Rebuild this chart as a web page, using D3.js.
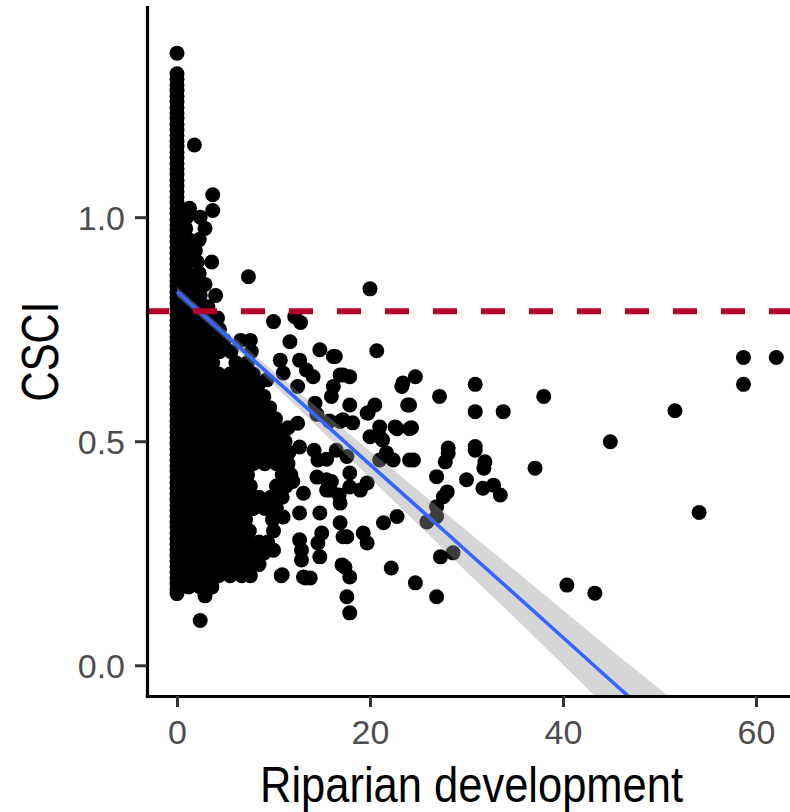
<!DOCTYPE html>
<html>
<head>
<meta charset="utf-8">
<script src="https://cdn.jsdelivr.net/npm/d3@7"></script>
<style>
  html, body { margin: 0; padding: 0; background: #ffffff; }
  svg { display: block; }
  text { font-family: "Liberation Sans", Arial, sans-serif; }
</style>
</head>
<body>
<script>
// ---------------- DATA ----------------
// Points stacked at x = 0 (the tall solid column)
const columnY = [1.366,
  1.320, 1.3075, 1.295, 1.2825, 1.270, 1.2575, 1.245, 1.2325, 1.220, 1.2075,
  1.195, 1.1825, 1.170, 1.1575, 1.145, 1.1325, 1.120, 1.1075, 1.095, 1.0825,
  1.070, 1.0575, 1.045, 1.0325, 1.020, 1.0075, 0.995, 0.9825, 0.970, 0.9575,
  0.945, 0.9325, 0.920, 0.9075, 0.895, 0.8825, 0.870, 0.8575, 0.845, 0.8325,
  0.820, 0.8075, 0.795, 0.7825, 0.770, 0.7575, 0.745, 0.7325, 0.720, 0.7075,
  0.695, 0.6825, 0.670, 0.6575, 0.645, 0.6325, 0.620, 0.6075, 0.595, 0.5825,
  0.570, 0.5575, 0.545, 0.5325, 0.520, 0.5075, 0.495, 0.4825, 0.470, 0.4575,
  0.445, 0.4325, 0.420, 0.4075, 0.395, 0.3825, 0.370, 0.3575, 0.345, 0.3325,
  0.320, 0.3075, 0.295, 0.2825, 0.270, 0.2575, 0.245, 0.2325, 0.220, 0.2075,
  0.195, 0.1825, 0.170, 0.160];

// Dense mass near the y axis: each row is [CSCI, [riparian development values]]
const denseRows = [
  [1.020, [1.3]],
  [1.000, [1.0, 2.4]],
  [0.975, [0.9, 2.9]],
  [0.950, [1.2, 2.3]],
  [0.925, [0.8, 1.9]],
  [0.900, [1.0, 2.1, 3.6]],
  [0.875, [1.1, 2.3]],
  [0.850, [0.7, 1.8, 2.9]],
  [0.825, [1.2, 2.4, 4.0]],
  [0.800, [0.8, 2.0, 3.2]],
  [0.775, [1.2, 2.4, 3.6, 4.2]],
  [0.750, [0.7, 1.9, 3.1, 4.4]],
  [0.725, [1.3, 2.5, 3.7, 4.9, 6.6, 7.6]],
  [0.700, [0.8, 2.0, 3.2, 4.4, 5.6, 7.7]],
  [0.675, [1.3, 2.5, 3.7, 6.1, 7.3]],
  [0.650, [0.7, 1.9, 3.1, 4.3, 5.5, 6.7, 7.9]],
  [0.625, [1.3, 2.5, 3.7, 4.9, 6.1, 7.3, 8.4]],
  [0.600, [0.7, 1.9, 3.1, 4.3, 5.5, 6.7, 7.9, 9.0]],
  [0.575, [1.3, 2.5, 3.7, 4.9, 6.1, 7.3, 8.5, 9.6]],
  [0.550, [0.7, 1.9, 3.1, 4.3, 5.5, 6.7, 7.9, 9.1, 10.2]],
  [0.525, [1.3, 2.5, 3.7, 4.9, 6.1, 7.3, 8.5, 9.7, 10.6]],
  [0.500, [0.7, 1.9, 3.1, 4.3, 5.5, 6.7, 7.9, 9.1, 10.3, 11.2]],
  [0.475, [1.3, 2.5, 3.7, 4.9, 6.1, 7.3, 8.5, 9.7, 10.9, 11.6]],
  [0.450, [0.7, 1.9, 3.1, 4.3, 5.5, 6.7, 7.9, 9.1, 10.3, 11.5]],
  [0.425, [1.3, 2.5, 3.7, 4.9, 6.1, 7.3, 10.9, 11.8]],
  [0.400, [0.7, 1.9, 3.1, 4.3, 5.5, 6.7, 7.6, 10.3, 11.3]],
  [0.375, [1.3, 2.5, 3.7, 4.9, 6.1, 7.3, 8.5, 9.7, 10.9]],
  [0.350, [0.7, 1.9, 3.1, 4.3, 5.5, 6.7, 7.9, 9.1, 10.3]],
  [0.325, [1.3, 2.5, 3.7, 4.9, 6.1, 7.1, 9.9]],
  [0.300, [0.7, 1.9, 3.1, 4.3, 5.5, 6.7, 7.5, 10.0]],
  [0.275, [1.3, 2.5, 3.7, 4.9, 6.1, 7.3, 8.5, 9.4]],
  [0.250, [0.7, 1.9, 3.1, 4.3, 5.5, 6.7, 7.9, 9.0]],
  [0.225, [1.3, 2.5, 3.7, 4.9, 6.1, 7.3, 8.5]],
  [0.200, [0.7, 1.9, 3.1, 4.3, 5.5, 6.7, 7.6]],
  [0.175, [1.2, 2.4, 3.6]],
  [0.155, [2.9]],
  [0.100, [2.4]]
];

// Scattered points: [riparian development, CSCI]
const scatterPts = [
  [1.8, 1.161], [3.7, 1.05], [3.7, 1.015], [7.4, 0.867], [20.0, 0.840],
  [10.0, 0.767], [12.2, 0.778], [12.8, 0.765], [11.7, 0.722], [14.8, 0.704],
  [16.2, 0.689], [20.7, 0.702], [10.7, 0.681], [12.7, 0.681], [11.0, 0.652],
  [13.4, 0.659], [14.1, 0.644], [9.3, 0.637], [12.5, 0.622], [16.9, 0.648],
  [17.9, 0.644], [16.2, 0.622], [16.0, 0.600], [17.9, 0.581], [14.3, 0.585],
  [23.4, 0.630], [24.7, 0.644], [23.9, 0.581], [20.5, 0.581], [19.7, 0.563],
  [17.2, 0.548], [18.2, 0.541], [21.0, 0.532], [22.6, 0.532], [24.3, 0.530],
  [20.0, 0.510], [21.3, 0.503], [10.5, 0.525], [11.5, 0.530], [12.5, 0.540],
  [14.5, 0.560], [15.8, 0.545], [10.3, 0.474], [12.7, 0.487], [14.2, 0.480],
  [14.6, 0.458], [15.5, 0.460], [21.7, 0.474], [22.4, 0.458], [24.5, 0.458],
  [15.5, 0.414], [11.7, 0.420], [12.0, 0.410], [14.5, 0.420], [16.0, 0.410],
  [16.8, 0.380], [17.9, 0.398], [19.7, 0.407], [11.0, 0.398], [13.1, 0.384],
  [15.5, 0.391], [16.9, 0.362], [19.0, 0.391], [14.8, 0.340], [11.0, 0.331],
  [12.7, 0.340], [16.9, 0.318], [17.6, 0.287], [19.3, 0.295],
  [19.7, 0.273], [15.0, 0.295], [14.6, 0.273], [14.8, 0.242], [12.7, 0.280],
  [12.9, 0.257], [12.9, 0.235], [10.0, 0.257], [17.4, 0.219], [17.9, 0.197],
  [10.9, 0.202], [13.1, 0.197], [13.8, 0.195], [17.6, 0.153], [17.9, 0.117],
  [22.2, 0.217], [24.7, 0.184], [44.9, 0.499], [37.1, 0.440], [40.4, 0.179],
  [43.3, 0.161], [27.3, 0.242], [26.9, 0.153], [17.1, 0.224], [28.6, 0.251],
  [26.9, 0.332], [25.9, 0.320], [27.6, 0.376], [28.0, 0.387], [26.9, 0.354],
  [26.9, 0.421], [30.0, 0.414], [28.1, 0.473], [27.8, 0.454], [30.9, 0.480],
  [31.9, 0.454], [31.8, 0.440], [31.7, 0.395], [32.8, 0.402], [33.5, 0.380],
  [24.1, 0.458], [21.0, 0.458], [22.8, 0.332], [21.4, 0.318], [17.2, 0.287],
  [15.9, 0.391], [17.9, 0.429], [17.6, 0.466], [16.5, 0.480], [21.0, 0.510],
  [16.4, 0.689], [17.2, 0.648], [23.3, 0.622], [30.9, 0.627], [38.0, 0.600],
  [27.2, 0.600], [30.9, 0.566], [33.8, 0.566], [24.1, 0.581], [19.8, 0.563],
  [22.8, 0.528], [24.1, 0.528], [16.9, 0.544], [28.1, 0.485], [30.9, 0.488],
  [58.7, 0.687], [62.1, 0.687], [58.7, 0.627], [51.6, 0.568], [54.1, 0.341],
  [10.8, 0.200], [13.3, 0.195], [3.6, 0.175]
];

// Linear fit with its confidence band
const fitX  = [0, 5, 10, 15, 20, 25, 30, 35, 40, 45, 50, 55, 60, 63.3];
const fitY  = [0.834, 0.738, 0.641, 0.545, 0.448, 0.352, 0.255, 0.159, 0.062, -0.035, -0.131, -0.228, -0.324, -0.388];
const fitLo = [0.823, 0.728, 0.626, 0.523, 0.418, 0.314, 0.209, 0.106, 0.001, -0.104, -0.209, -0.314, -0.418, -0.487];
const fitHi = [0.845, 0.748, 0.656, 0.567, 0.478, 0.390, 0.301, 0.212, 0.123, 0.034, -0.053, -0.142, -0.230, -0.289];

const threshold = 0.79;
const xTicks = [0, 20, 40, 60];
const yTicks = [0.0, 0.5, 1.0];
const yTickLabels = ["0.0", "0.5", "1.0"];
const xTitle = "Riparian development";
const yTitle = "CSCI";

// ---------------- CHART ----------------
const W = 790, H = 812;
const mLeft = 147, mRight = 790, mTop = 7, mBottom = 696;

const svg = d3.select("body").append("svg").attr("width", W).attr("height", H);

const x = d3.scaleLinear().domain([-3.11, 63.52]).range([mLeft, mRight]);
const y = d3.scaleLinear().domain([-0.0685, 1.469]).range([mBottom, mTop]);

svg.append("defs").append("clipPath").attr("id", "panel")
  .append("rect").attr("x", mLeft).attr("y", mTop).attr("width", mRight - mLeft).attr("height", mBottom - mTop);

const panel = svg.append("g").attr("clip-path", "url(#panel)");

const pts = [];
columnY.forEach(v => pts.push([0, v]));
denseRows.forEach(([v, xs]) => xs.forEach(d => pts.push([d, v])));
scatterPts.forEach(p => pts.push(p));

panel.append("g").selectAll("circle").data(pts).join("circle")
  .attr("cx", d => x(d[0])).attr("cy", d => y(d[1])).attr("r", 7.5)
  .attr("fill", "#000000");

const fit = fitX.map((d, i) => ({ x: d, y: fitY[i], lo: fitLo[i], hi: fitHi[i] }));

panel.append("path").datum(fit)
  .attr("d", d3.area().x(d => x(d.x)).y0(d => y(d.lo)).y1(d => y(d.hi)))
  .attr("fill", "#999999").attr("fill-opacity", 0.4);

panel.append("path").datum(fit)
  .attr("d", d3.line().x(d => x(d.x)).y(d => y(d.y)))
  .attr("fill", "none").attr("stroke", "#3366FF").attr("stroke-width", 3.6);

panel.append("line")
  .attr("x1", mLeft - 2).attr("x2", mRight + 10)
  .attr("y1", y(threshold)).attr("y2", y(threshold))
  .attr("stroke", "#B2002B").attr("stroke-width", 6)
  .attr("stroke-dasharray", "24,24");

// Axes
const xAxis = svg.append("g").attr("transform", `translate(0,${mBottom})`)
  .call(d3.axisBottom(x).tickValues(xTicks).tickSize(11).tickSizeOuter(0).tickPadding(13));
const yAxis = svg.append("g").attr("transform", `translate(${mLeft},0)`)
  .call(d3.axisLeft(y).tickValues(yTicks).tickFormat((d, i) => yTickLabels[i]).tickSize(12).tickSizeOuter(0).tickPadding(10));

[xAxis, yAxis].forEach(g => {
  g.select(".domain").attr("stroke", "#000000").attr("stroke-width", 3.2).attr("stroke-linecap", "square");
  g.selectAll(".tick line").attr("stroke", "#333333").attr("stroke-width", 3);
  g.selectAll(".tick text").attr("fill", "#4D4D4D").style("font-size", "34px")
    .style("font-family", '"Liberation Sans", Arial, sans-serif');
});
yAxis.selectAll(".tick text").attr("dy", "0.36em");

svg.append("text")
  .attr("transform", `translate(${(mLeft + mRight) / 2 + 3},802) scale(1,1.15)`)
  .attr("text-anchor", "middle").attr("fill", "#000000").style("font-size", "43.5px")
  .text(xTitle);

svg.append("text").attr("transform", `translate(58,${(mTop + mBottom) / 2}) rotate(-90) scale(0.96,1.18)`)
  .attr("text-anchor", "middle").attr("fill", "#000000").style("font-size", "43.5px")
  .text(yTitle);
</script>
</body>
</html>
